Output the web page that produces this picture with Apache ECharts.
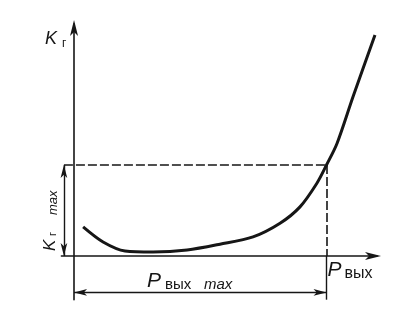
<!DOCTYPE html>
<html><head><meta charset="utf-8">
<script src="https://cdn.jsdelivr.net/npm/echarts@6/dist/echarts.min.js"></script>
<style>html,body{margin:0;padding:0;background:#fff}#c{width:394px;height:315px}</style>
</head><body><div id="c"></div>
<script>
// Curve: output power P (x) vs harmonic coefficient K (y), arbitrary units
const curveX = [3.6, 11.5, 20.2, 31.3, 44.8, 57.8, 70.9, 81.6, 89.5, 96.2, 100, 104.2, 110.5, 119.2];
const curveK = [0.32, 0.154, 0.055, 0.044, 0.066, 0.13, 0.21, 0.36, 0.54, 0.80, 1.0, 1.24, 1.75, 2.43];
const pOutMax = 100;   // P вых max
const kMax = 1;        // K г max
const xRange = [-5, 120];
const yRange = [-0.48, 2.55];
const dimY = -0.4;     // level of the P вых max dimension line
const dimX = -4;       // position of the K г max dimension line
const labels = { k: 'K', kSub: 'г', p: 'P', pSub: 'вых', max: 'max' };

const ink = '#161616';
const chart = echarts.init(document.getElementById('c'), null, { renderer: 'canvas' });

const seg = (a, b, arrows, dashed) => [
  { coord: a, symbol: arrows ? 'arrow' : 'none', symbolSize: [5, 13],
    lineStyle: { type: dashed ? [9, 3] : 'solid', width: dashed ? 1.6 : 1.4, color: ink } },
  { coord: b, symbol: arrows ? 'arrow' : 'none', symbolSize: [5, 13] }
];

chart.setOption({
  animation: false,
  backgroundColor: '#ffffff',
  grid: { left: 61.4, right: 17, top: 24, bottom: 15.3, containLabel: false },
  xAxis: {
    type: 'value', min: xRange[0], max: xRange[1],
    axisLine: { onZero: true, symbol: ['none', 'arrow'], symbolSize: [6, 16], symbolOffset: [0, 4],
      lineStyle: { color: ink, width: 1.6 } },
    axisTick: { show: false }, axisLabel: { show: false }, splitLine: { show: false }
  },
  yAxis: {
    type: 'value', min: yRange[0], max: yRange[1],
    axisLine: { onZero: true, symbol: ['none', 'arrow'], symbolSize: [6, 16], symbolOffset: [0, 4],
      lineStyle: { color: ink, width: 1.6 } },
    axisTick: { show: false }, axisLabel: { show: false }, splitLine: { show: false }
  },
  series: [
    {
      type: 'line', data: curveX.map((x, i) => [x, curveK[i]]),
      smooth: 0.3, showSymbol: false, symbol: 'none',
      lineStyle: { color: ink, width: 3 }, z: 5,
      markLine: {
        silent: true, symbol: ['none', 'none'], label: { show: false },
        data: [
          seg([dimX, kMax], [pOutMax, kMax], false, true),
          seg([pOutMax, kMax], [pOutMax, 0], false, true),
          seg([pOutMax, 0], [pOutMax, yRange[0]], false, false),
          seg([dimX, 0], [dimX, kMax], true, false),
          seg([0, dimY], [pOutMax, dimY], true, false)
        ]
      }
    }
  ]
});

const px = (x, y) => chart.convertToPixel({ gridIndex: 0 }, [x, y]);
const txt = (x, y, text, size, italic) => ({
  type: 'text', x, y,
  style: { text, fill: ink, fontSize: size, fontStyle: italic ? 'italic' : 'normal',
    fontFamily: 'Liberation Sans', align: 'left', verticalAlign: 'middle' }
});

const yEnd = px(0, yRange[1]), pm = px(pOutMax, 0), dimL = px(0, dimY), kBase = px(dimX, 0);

chart.setOption({
  graphic: [
    // K г (y axis name)
    txt(yEnd[0] - 29, yEnd[1] + 15, labels.k, 18, true),
    txt(yEnd[0] - 12, yEnd[1] + 20, labels.kSub, 12, false),
    // P вых (x axis name)
    txt(pm[0] + 1, pm[1] + 14, labels.p, 21, true),
    txt(pm[0] + 18, pm[1] + 18, labels.pSub, 16, false),
    // P вых max
    txt(dimL[0] + 73, dimL[1] - 11, labels.p, 21, true),
    txt(dimL[0] + 91, dimL[1] - 8, labels.pSub, 15, false),
    txt(dimL[0] + 130, dimL[1] - 8, labels.max, 15, true),
    // K г max (rotated)
    {
      type: 'group', x: kBase[0] - 14, y: kBase[1] - 5, rotation: Math.PI / 2,
      children: [
        txt(0, 0, labels.k, 17, true),
        txt(15, 3, labels.kSub, 11, false),
        txt(36, 3, labels.max, 13, true)
      ]
    }
  ]
});
</script>
</body></html>
